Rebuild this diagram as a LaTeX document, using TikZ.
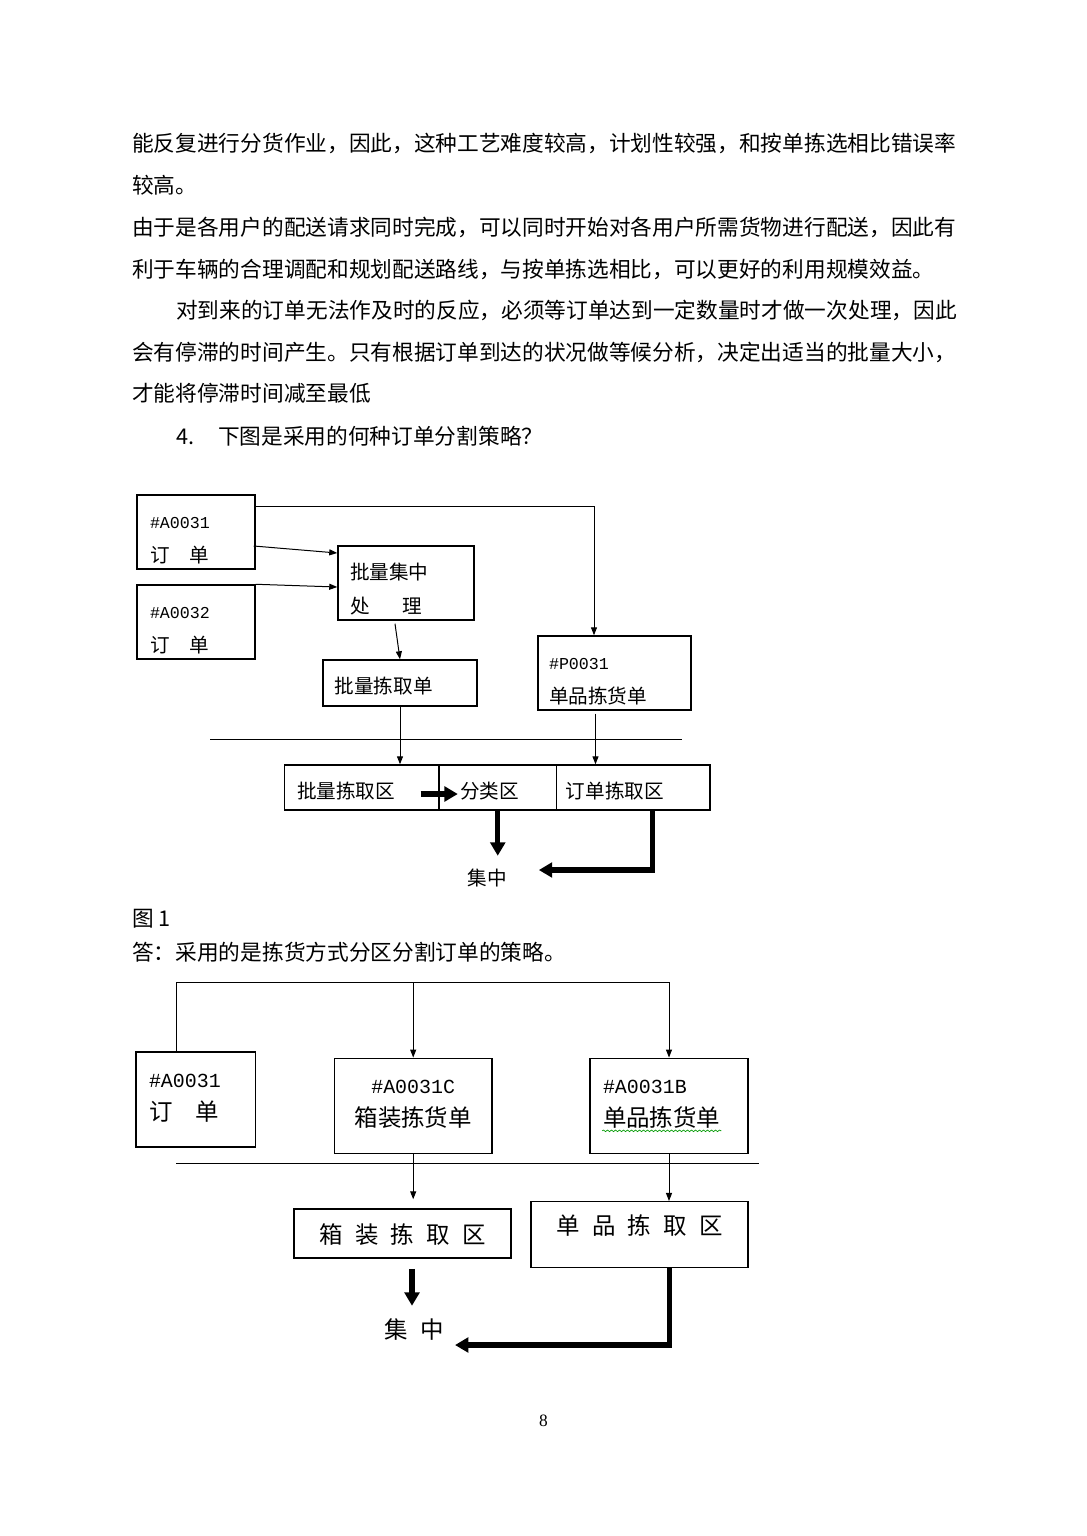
\documentclass[tikz,border=0pt]{standalone}
\usepackage{fontspec}
\setmainfont{Noto Sans CJK SC}
\newfontfamily\lat[Scale=0.85]{Liberation Mono}
\newfontfamily\pnum{Liberation Serif}
\usetikzlibrary{calc,arrows.meta,decorations.pathmorphing}
\newcommand{\gp}{\hspace{0.52em}}

\tikzset{
  txtline/.style={anchor=base west,inner sep=0pt,font=\fontsize{16.26pt}{20pt}\selectfont},
  box/.style={draw,line width=1.1pt,inner ysep=0pt,align=left},
  smallf/.style={font=\fontsize{14.7pt}{25.5pt}\selectfont},
  bigf/.style={font=\fontsize{17.6pt}{24.5pt}\selectfont},
  twoa/.style={text height=22pt,text depth=27.3pt},
  twob/.style={text height=8pt,text depth=26.3pt},
  onea/.style={text height=18pt,text depth=1.8pt},
  arr/.style={line width=0.75pt,-{Triangle[length=6pt,width=4.5pt]}},
  bigarr/.style={line width=4pt,-{Triangle[length=10pt,width=11pt]}},
}

\begin{document}
\begin{tikzpicture}[x=0.75pt,y=-0.75pt]
  \fill[white] (0,0) rectangle (1087,1536);
  \useasboundingbox (0,0) rectangle (1087,1536);

  % text of the page
  \node[txtline] (l1) at (132,151.2) {能反复进行分货作业，因此，这种工艺难度较高，计划性较强，和按单拣选相比错误率};
  \node[txtline] (l2) at (132,193.2) {较高。};
  \node[txtline] (l3) at (132,235.2) {由于是各用户的配送请求同时完成，可以同时开始对各用户所需货物进行配送，因此有};
  \node[txtline] (l4) at (132,277.2) {利于车辆的合理调配和规划配送路线，与按单拣选相比，可以更好的利用规模效益。};
  \node[txtline] (l5) at (176,318.2) {对到来的订单无法作及时的反应，必须等订单达到一定数量时才做一次处理，因此};
  \node[txtline] (l6) at (132,360.2) {会有停滞的时间产生。只有根据订单到达的状况做等候分析，决定出适当的批量大小，};
  \node[txtline] (l7) at (132,401.2) {才能将停滞时间减至最低};
  \node[txtline] (l8) at (176,444.2) {4.\hspace{1.1em}下图是采用的何种订单分割策略？};
  \node[txtline] (fig) at (132,926.2) {图 1};
  \node[txtline] (ans) at (132,960.2) {答：采用的是拣货方式分区分割订单的策略。};
  \node[inner sep=0pt,font=\pnum\fontsize{13pt}{15pt}\selectfont] (pg) at (543.5,1421) {8};

  % figure 1
  \node[box,smallf,twoa,minimum width=88.5pt,minimum height=55.5pt,inner xsep=9.75pt,text width=69pt]
    (a31) at (196,532) {{\lat\#A0031}\\订\hspace{1em}单};
  \node[box,smallf,twoa,minimum width=88.5pt,minimum height=55.5pt,inner xsep=9.75pt,text width=69pt]
    (a32) at (196,622) {{\lat\#A0032}\\订\hspace{1em}单};
  \node[box,smallf,twoa,minimum width=102pt,minimum height=55.5pt,inner xsep=9pt,text width=84pt]
    (batch) at (406,583) {批量集中\\处\hspace{1.7em}理};
  \node[box,smallf,onea,minimum width=115.5pt,minimum height=34.5pt,inner xsep=8.7pt,text width=98.1pt]
    (pick) at (400,683) {批量拣取单};
  \node[box,smallf,twoa,minimum width=114.75pt,minimum height=55.5pt,inner xsep=8.25pt,text width=98.25pt]
    (p31) at (614.5,673) {{\lat\#P0031}\\单品拣货单};

  \draw[line width=0.75pt] (210,739) -- (681.5,739);

  \node[box,smallf,onea,minimum width=115.8pt,minimum height=33.75pt,inner xsep=9.3pt,text width=97.2pt]
    (z1) at (361.8,787.5) {批量拣取区};
  \node[box,smallf,onea,minimum width=88.1pt,minimum height=33.75pt,inner xsep=15.75pt,text width=56.6pt]
    (z2) at (497.75,787.5) {分类区};
  \node[box,smallf,onea,minimum width=115.1pt,minimum height=33.75pt,inner xsep=7.1pt,text width=100.9pt]
    (z3) at (633.25,787.5) {订单拣取区};
  \node[smallf,inner sep=0pt] (jz1) at (487,878) {集中};

  \draw[arr] ($(a31.north east)+(0,12.3)$) -| ($(p31.north)+(-20.5,0)$);
  \draw[arr] ($(a31.east)+(-2,14)$) -- ($(batch.west)+(0,-30)$);
  \draw[arr] (a32.north east) -- ($(batch.west)+(0,4)$);
  \draw[arr] ($(batch.south)+(-11,3)$) -- (pick.north);
  \draw[arr] (pick.south) -- (pick.south |- z1.north);
  \coordinate (pd) at ($(p31.south)+(-19,3)$);
  \draw[arr] (pd) -- (pd |- z3.north);
  \draw[bigarr] ($(z1.east)+(-19,6.5)$) -- ($(z2.west)+(19.5,6.5)$);
  \draw[bigarr] (z2.south) -- ++(0,45);
  \draw[bigarr] ($(z3.south)+(19.5,0)$) |- ($(jz1.east)+(32,-8)$);

  % figure 2
  \node[box,bigf,twob,minimum width=89.7pt,minimum height=71.25pt,inner xsep=9.75pt,text width=70.2pt]
    (ba) at (195.8,1099.6) {{\lat\#A0031}\\订\hspace{1em}单};
  \node[box,bigf,twob,minimum width=118.2pt,minimum height=71.25pt,inner xsep=6.6pt,text width=105pt,align=center]
    (bc) at (413.2,1105.8) {{\lat\#A0031C}\\箱装拣货单};
  \node[box,bigf,twob,minimum width=118.5pt,minimum height=71.25pt,inner xsep=9.75pt,text width=99pt]
    (bb) at (669,1105.8) {{\lat\#A0031B}\\单品拣货单};
  \draw[green!60!black,line width=0.5pt,decorate,decoration={snake,amplitude=0.6pt,segment length=3pt}]
    ($(bb.west)+(13,25)$) -- ++(119,0);

  \draw[line width=0.75pt] (176.4,1163.3) -- (759,1163.3);

  \node[box,bigf,text height=17.4pt,text depth=1.8pt,minimum width=162.75pt,minimum height=36.75pt,inner xsep=6.4pt,text width=150pt,align=center]
    (zx) at (402.5,1233.5) {箱\gp{}装\gp{}拣\gp{}取\gp{}区};
  \node[box,bigf,text height=14pt,text depth=13.6pt,minimum width=162.75pt,minimum height=49.5pt,inner xsep=6.4pt,text width=150pt,align=center]
    (dp) at (639.5,1234.7) {单\gp{}品\gp{}拣\gp{}取\gp{}区};
  \node[bigf,inner sep=0pt] (jz2) at (414.5,1330) {集\gp{}中};

  \coordinate (split) at (bc.north |- 0,982.7);
  \draw[arr] ($(ba.north west)+(41,0)$) |- (split) -| (bb.north);
  \draw[arr] (split) -- (bc.north);
  \draw[arr,shorten >=6.75pt] (bc.south) -- (bc.south |- zx.north);
  \draw[arr] (bb.south) -- (bb.south |- dp.north);
  \draw[bigarr] ($(zx.south)+(9.5,10)$) -- ++(0,37);
  \draw[bigarr] ($(dp.south)+(30,0)$) |- ($(jz2.east)+(10.7,15)$);
\end{tikzpicture}
\end{document}
